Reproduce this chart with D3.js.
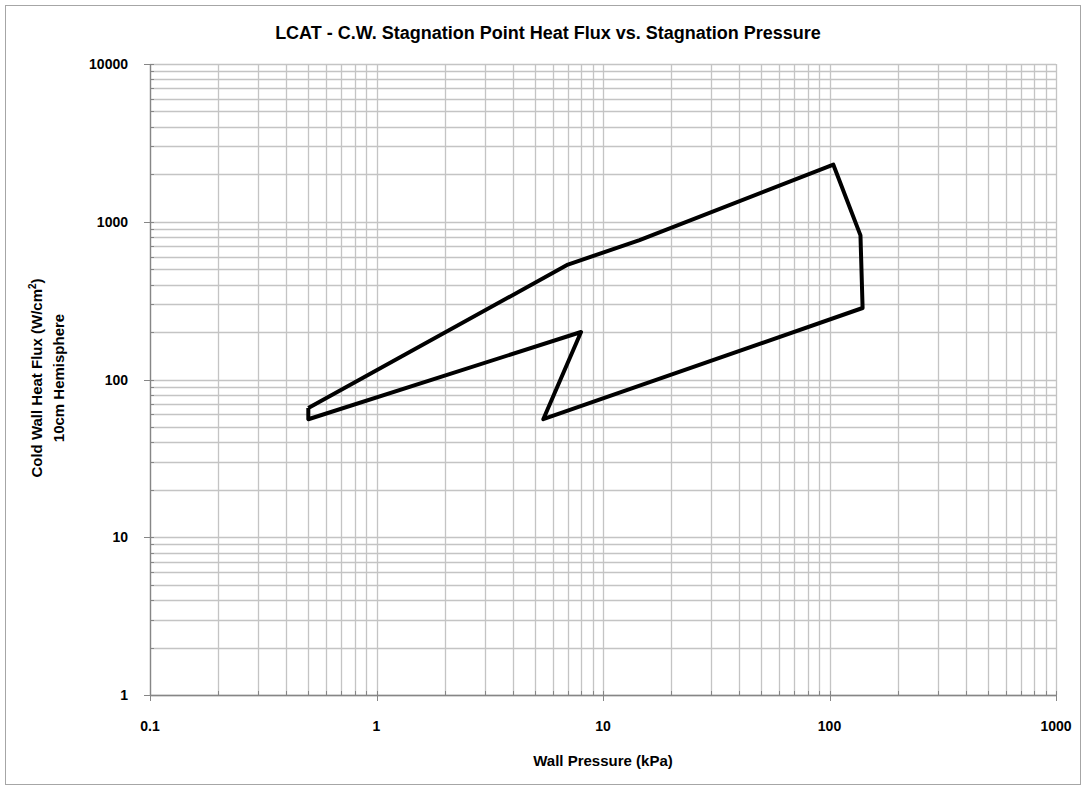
<!DOCTYPE html>
<html>
<head>
<meta charset="utf-8">
<script src="https://cdn.jsdelivr.net/npm/d3@7"></script>
<style>
  body { margin: 0; background: #fff; }
  text { font-family: "Liberation Sans", Arial, sans-serif; font-weight: bold; fill: #000; }
</style>
</head>
<body>
<script>
var width = 1086, height = 790

// envelope outline (wall pressure kPa, heat flux W/cm2), closed loop
var pressure = [0.5, 7, 14.5, 104, 137, 140, 5.45, 8, 0.5, 0.5]
var heatFlux = [66, 535, 765, 2300, 820, 284, 56, 200, 56, 66]

var xTicks = [0.1, 1, 10, 100, 1000]
var yTicks = [1, 10, 100, 1000, 10000]

var svg = d3.select("body").append("svg")
  .attr("width", width)
  .attr("height", height)

// outer chart border
svg.append("rect")
  .attr("x", 5.5).attr("y", 5.5)
  .attr("width", 1075).attr("height", 779)
  .attr("fill", "none")
  .attr("stroke", "#a6a6a6")

var x = d3.scaleLog().domain([0.1, 1000]).range([150, 1056])
var y = d3.scaleLog().domain([1, 10000]).range([695, 64])

// minor + major gridlines
var xGrid = x.ticks(), yGrid = y.ticks()

svg.append("g").selectAll("line")
  .data(xGrid)
  .enter().append("line")
  .attr("x1", function(d) { return Math.round(x(d)) + 0.5 })
  .attr("x2", function(d) { return Math.round(x(d)) + 0.5 })
  .attr("y1", y(10000)).attr("y2", y(1))
  .attr("stroke", "#c4c4c4")
  .attr("stroke-width", 1.3)

svg.append("g").selectAll("line")
  .data(yGrid)
  .enter().append("line")
  .attr("y1", function(d) { return Math.round(y(d)) + 0.5 })
  .attr("y2", function(d) { return Math.round(y(d)) + 0.5 })
  .attr("x1", x(0.1)).attr("x2", x(1000))
  .attr("stroke", "#c4c4c4")
  .attr("stroke-width", 1.3)

// axes lines
var axisColor = "#868686"
svg.append("line")
  .attr("x1", x(0.1) + 0.5).attr("x2", x(0.1) + 0.5)
  .attr("y1", y(10000)).attr("y2", y(1))
  .attr("stroke", axisColor).attr("stroke-width", 1.3)
svg.append("line")
  .attr("x1", x(0.1)).attr("x2", x(1000))
  .attr("y1", y(1) + 0.5).attr("y2", y(1) + 0.5)
  .attr("stroke", axisColor).attr("stroke-width", 1.3)

// major tick marks (outside)
svg.append("g").selectAll("line")
  .data(yTicks)
  .enter().append("line")
  .attr("x1", x(0.1) - 6).attr("x2", x(0.1))
  .attr("y1", function(d) { return Math.round(y(d)) + 0.5 })
  .attr("y2", function(d) { return Math.round(y(d)) + 0.5 })
  .attr("stroke", axisColor)
svg.append("g").selectAll("line")
  .data(xTicks)
  .enter().append("line")
  .attr("y1", y(1)).attr("y2", y(1) + 6)
  .attr("x1", function(d) { return Math.round(x(d)) + 0.5 })
  .attr("x2", function(d) { return Math.round(x(d)) + 0.5 })
  .attr("stroke", axisColor)

// minor tick marks (inside)
svg.append("g").selectAll("line")
  .data(yGrid)
  .enter().append("line")
  .attr("x1", x(0.1)).attr("x2", x(0.1) + 4)
  .attr("y1", function(d) { return Math.round(y(d)) + 0.5 })
  .attr("y2", function(d) { return Math.round(y(d)) + 0.5 })
  .attr("stroke", axisColor)
svg.append("g").selectAll("line")
  .data(xGrid)
  .enter().append("line")
  .attr("y1", y(1) - 4).attr("y2", y(1))
  .attr("x1", function(d) { return Math.round(x(d)) + 0.5 })
  .attr("x2", function(d) { return Math.round(x(d)) + 0.5 })
  .attr("stroke", axisColor)

// tick labels
svg.append("g").selectAll("text")
  .data(yTicks)
  .enter().append("text")
  .attr("x", 128)
  .attr("y", function(d) { return y(d) + 5 })
  .attr("text-anchor", "end")
  .style("font-size", "14px")
  .text(function(d) { return d })

svg.append("g").selectAll("text")
  .data(xTicks)
  .enter().append("text")
  .attr("x", function(d) { return x(d) })
  .attr("y", 731)
  .attr("text-anchor", "middle")
  .style("font-size", "14px")
  .text(function(d) { return d })

// the envelope
var pts = pressure.map(function(p, i) { return [p, heatFlux[i]] })
var line = d3.line()
  .x(function(d) { return x(d[0]) })
  .y(function(d) { return y(d[1]) })

svg.append("path")
  .datum(pts)
  .attr("d", line)
  .attr("fill", "none")
  .attr("stroke", "#000")
  .attr("stroke-width", 4)
  .attr("stroke-linejoin", "round")

// titles
svg.append("text")
  .attr("x", 548).attr("y", 39)
  .attr("text-anchor", "middle")
  .style("font-size", "18px")
  .text("LCAT - C.W.  Stagnation Point Heat Flux vs. Stagnation Pressure")

svg.append("text")
  .attr("x", 603).attr("y", 766)
  .attr("text-anchor", "middle")
  .style("font-size", "15px")
  .text("Wall Pressure (kPa)")

var yl = svg.append("text")
  .attr("transform", "translate(42,378) rotate(-90)")
  .attr("text-anchor", "middle")
  .style("font-size", "15px")
yl.append("tspan").text("Cold Wall Heat Flux (W/cm")
yl.append("tspan").attr("dy", -6).style("font-size", "10px").text("2")
yl.append("tspan").attr("dy", 6).text(")")

svg.append("text")
  .attr("transform", "translate(64,378) rotate(-90)")
  .attr("text-anchor", "middle")
  .style("font-size", "15px")
  .text("10cm Hemisphere")
</script>
</body>
</html>
